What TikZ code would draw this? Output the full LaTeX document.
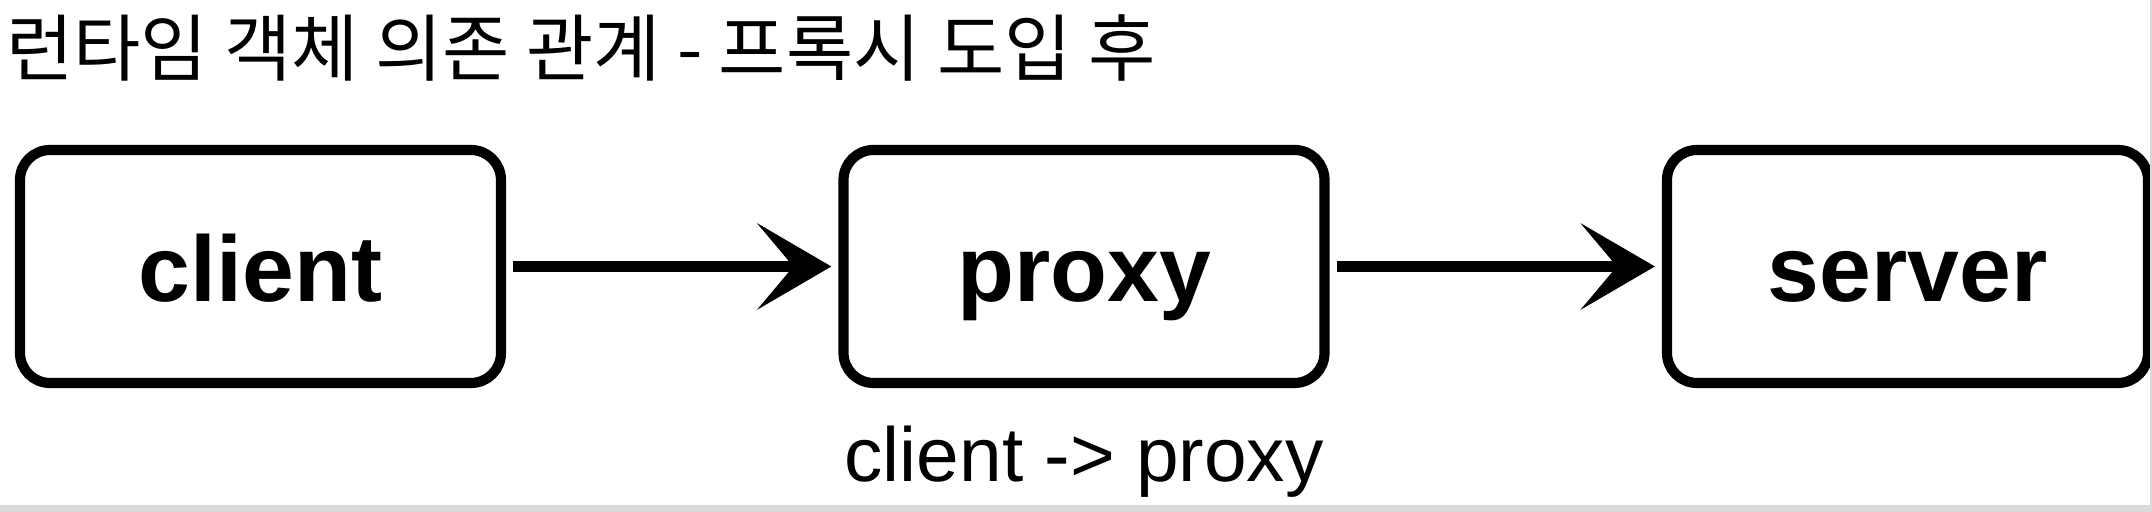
\documentclass[tikz,border=0pt]{standalone}
\usepackage{fontspec}
\setmainfont{Liberation Sans}
\newfontfamily\krfont{Noto Sans CJK KR}
\usetikzlibrary{positioning,arrows.meta}
\definecolor{framegray}{HTML}{D9D9D9}

\begin{document}
\begin{tikzpicture}[->,>={Stealth[length=7.4mm,width=8.6mm,inset=3.6mm]},shorten >=0.07cm,shorten <=0.07cm,line width=3.1pt,node distance=8.235cm,
  box/.style={draw,line width=2.9pt,rounded corners=0.3cm,minimum width=4.81cm,minimum height=2.33cm,inner sep=0pt,text height=0.71cm,text depth=0cm,font=\fontsize{26.5}{30}\selectfont\bfseries}]
\useasboundingbox (0,0) rectangle (21.52,5.12);

\node[font=\krfont\fontsize{20.8}{25}\selectfont,anchor=west,inner sep=0pt](title) at (0.01,4.64) {런타임 객체 의존 관계 - 프록시 도입 후};

\node[box](client) at (2.605,2.455) {client};
\node[box](proxy)[right of=client] {proxy};
\node[box](server)[right of=proxy] {server};

\draw (client) edge (proxy);
\draw (proxy) edge (server);

\node[font=\fontsize{21.8}{26}\selectfont,anchor=base](note) at (10.84,0.30) {client -> proxy};

% screenshot frame
\fill[framegray] (0,0) rectangle (21.52,0.07);
\fill[framegray] (21.50,0) rectangle (21.52,5.12);

\end{tikzpicture}
\end{document}
